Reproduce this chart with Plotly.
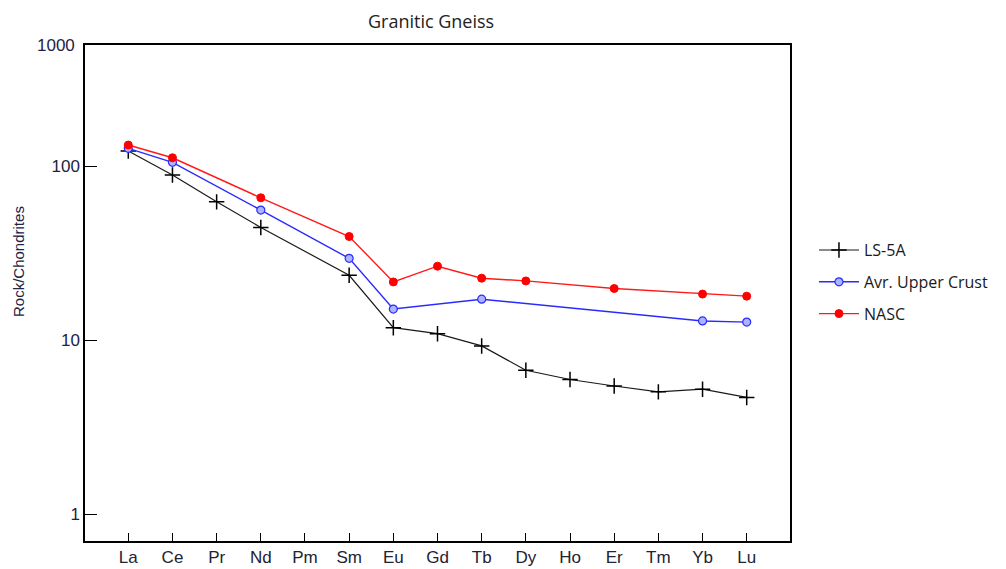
import plotly.graph_objects as go

# REE categories (chondrite-normalised spider diagram)
elements = ["La", "Ce", "Pr", "Nd", "Pm", "Sm", "Eu", "Gd", "Tb", "Dy", "Ho", "Er", "Tm", "Yb", "Lu"]

ls_5a = [122, 88.8, 62.3, 44.4, None, 23.6, 11.8, 10.9, 9.27, 6.72, 5.95, 5.46, 5.05, 5.23, 4.69]
upper_crust = [126.4, 105, None, 55.9, None, 29.5, 15.1, None, 17.2, None, None, None, None, 12.9, 12.7]
nasc = [132, 111.6, None, 65.7, None, 39.4, 21.6, 26.6, 22.7, 21.9, None, 19.8, None, 18.4, 17.9]

y_tick_vals = [1, 10, 100]
y_tick_text = ["1", "10", "100"]
y_log_range = [-0.153, 2.695]

fig = go.Figure()

fig.add_trace(go.Scatter(
    x=elements, y=ls_5a, name="LS-5A", mode="lines+markers", connectgaps=True, legendgroup="a",
    line=dict(color="#1a1a1a", width=1.2),
    marker=dict(symbol="cross-thin", size=11, line=dict(color="#000000", width=1.5)),
))
fig.add_trace(go.Scatter(
    x=elements, y=upper_crust, name="Avr. Upper Crust", mode="lines+markers", connectgaps=True,
    legendgroup="b",
    line=dict(color="#2a2aff", width=1.4),
    marker=dict(symbol="circle", size=8, color="#aab4ff", line=dict(color="#2a2aff", width=1.2)),
))
fig.add_trace(go.Scatter(
    x=elements, y=nasc, name="NASC", mode="lines+markers", connectgaps=True, legendgroup="c",
    line=dict(color="#ff1a1a", width=1.4),
    marker=dict(symbol="circle", size=8, color="#ff0000", line=dict(color="#ff0000", width=1)),
))

fig.update_layout(
    width=1006, height=569,
    margin=dict(l=85, r=216, t=45, b=28),
    paper_bgcolor="white", plot_bgcolor="white",
    title=dict(text="Granitic Gneiss", x=0.4285, xanchor="center", y=0.961, yanchor="middle",
               font=dict(family="Open Sans", size=18, color="#222222")),
    showlegend=True,
    legend=dict(x=1.034, y=0.522, xanchor="left", yanchor="middle",
                font=dict(family="Open Sans", size=16, color="#1a1a1a"),
                tracegroupgap=8, itemwidth=40, bgcolor="rgba(0,0,0,0)"),
    xaxis=dict(
        type="category", range=[-0.98, 14.98], automargin=False,
        showline=True, linecolor="#000000", linewidth=1.5, mirror=True,
        ticks="inside", ticklen=8, tickcolor="#000000", tickwidth=1,
        showgrid=False, zeroline=False,
        tickfont=dict(family="Liberation Sans", size=17, color="#222233"),
    ),
    yaxis=dict(
        type="log", range=y_log_range, automargin=False,
        tickvals=y_tick_vals, ticktext=y_tick_text,
        showline=True, linecolor="#000000", linewidth=1.5, mirror=True,
        ticks="inside", ticklen=12, tickcolor="#000000", tickwidth=1,
        showgrid=False, zeroline=False,
        tickfont=dict(family="Liberation Sans", size=17, color="#222244"),
    ),
    annotations=[
        dict(text="1000", xref="paper", yref="paper", x=0, y=1, xanchor="right", yanchor="middle",
             xshift=-8, showarrow=False,
             font=dict(family="Liberation Sans", size=17, color="#222244")),
        dict(text="Rock/Chondrites", xref="paper", yref="paper", x=0, y=0.5625,
             xanchor="center", yanchor="middle", xshift=-67, textangle=-90, showarrow=False,
             font=dict(family="Liberation Sans", size=15, color="#222244")),
    ],
)

fig.write_html("out.html")
